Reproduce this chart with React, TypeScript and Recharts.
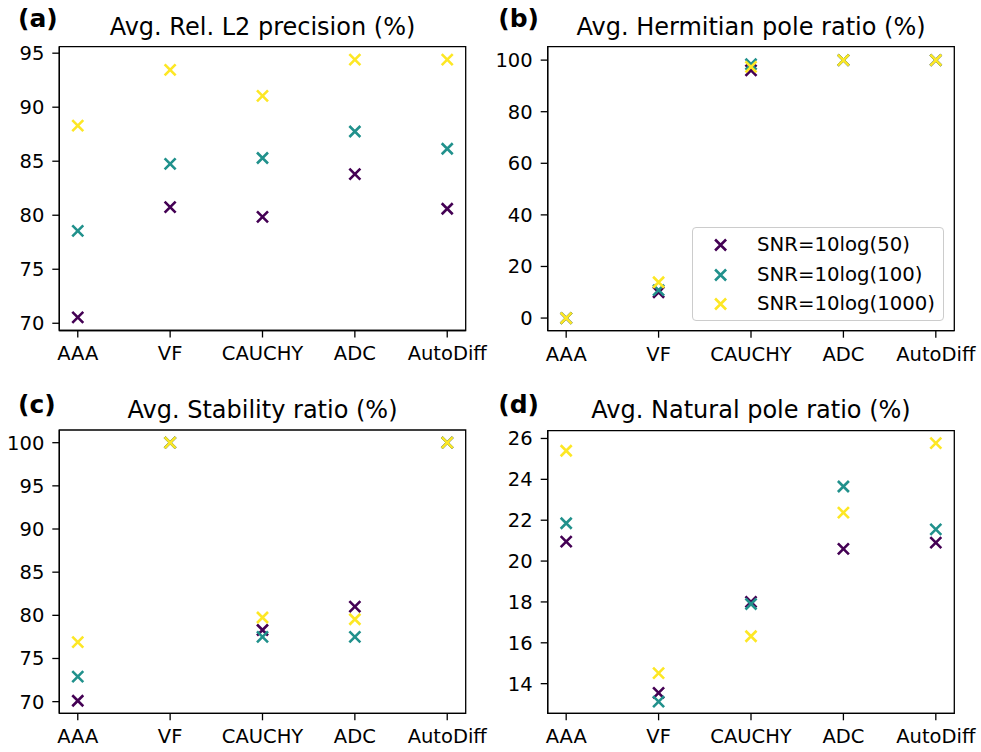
import React from 'react';
import { ScatterChart, Scatter, XAxis, YAxis, Legend, ReferenceArea } from 'recharts';

const categories = ['AAA', 'VF', 'CAUCHY', 'ADC', 'AutoDiff'];
const seriesNames = ['SNR=10log(50)', 'SNR=10log(100)', 'SNR=10log(1000)'];

const precision50 = [70.55, 80.75, 79.85, 83.8, 80.6];
const precision100 = [78.55, 84.75, 85.3, 87.75, 86.15];
const precision1000 = [88.3, 93.45, 91.05, 94.4, 94.4];

const hermitian50 = [0, 10, 96, 100, 100];
const hermitian100 = [0, 10.8, 98.4, 100, 100];
const hermitian1000 = [0, 13.9, 97.4, 100, 100];

const stability50 = [70.1, 100, 78.3, 81.0, 100];
const stability100 = [72.9, 100, 77.5, 77.5, 100];
const stability1000 = [76.9, 100, 79.75, 79.55, 100];

const natural50 = [20.95, 13.55, 18.0, 20.6, 20.9];
const natural100 = [21.85, 13.12, 17.9, 23.65, 21.55];
const natural1000 = [25.4, 14.52, 16.32, 22.37, 25.77];

const titles = [
  'Avg. Rel. L2 precision (%)',
  'Avg. Hermitian pole ratio (%)',
  'Avg. Stability ratio (%)',
  'Avg. Natural pole ratio (%)',
];
const panelLetters = ['(a)', '(b)', '(c)', '(d)'];

const ticksA = [70, 75, 80, 85, 90, 95];
const ticksB = [0, 20, 40, 60, 80, 100];
const ticksC = [70, 75, 80, 85, 90, 95, 100];
const ticksD = [14, 16, 18, 20, 22, 24, 26];

const COLORS = ['#440154', '#21918c', '#fde725'];
const FONT = "'DejaVu Sans', 'Liberation Sans', sans-serif";
const X_DOMAIN = [-0.2, 4.2];

const toPoints = (vals: number[]) => vals.map((v, i) => ({ x: i, y: v, cat: categories[i] }));

const panels = [
  {
    series: [precision50, precision100, precision1000],
    ticks: ticksA, domain: [69.33, 95.6],
    left: 0, top: 0, width: 490, height: 376,
    margin: { left: 9.3, right: 24.3, top: 46.7, bottom: 15.5 },
    title: titles[0], letter: panelLetters[0],
    titleX: 262.5, titleY: 35, letterX: 18, letterY: 26.5,
    legend: false,
  },
  {
    series: [hermitian50, hermitian100, hermitian1000],
    ticks: ticksB, domain: [-4.9, 105.2],
    left: 490, top: 0, width: 491, height: 376,
    margin: { left: 7.7, right: 26.7, top: 46.7, bottom: 15.3 },
    title: titles[1], letter: panelLetters[1],
    titleX: 751, titleY: 35, letterX: 498.3, letterY: 26.5,
    legend: true,
  },
  {
    series: [stability50, stability100, stability1000],
    ticks: ticksC, domain: [68.65, 101.47],
    left: 0, top: 376, width: 490, height: 376,
    margin: { left: 9.3, right: 24.3, top: 54, bottom: 8.7 },
    title: titles[2], letter: panelLetters[2],
    titleX: 262.5, titleY: 418.3, letterX: 18, letterY: 412.5,
    legend: false,
  },
  {
    series: [natural50, natural100, natural1000],
    ticks: ticksD, domain: [12.55, 26.38],
    left: 490, top: 376, width: 491, height: 376,
    margin: { left: 7.7, right: 26.7, top: 54.7, bottom: 8.7 },
    title: titles[3], letter: panelLetters[3],
    titleX: 751, titleY: 418, letterX: 498.3, letterY: 412.5,
    legend: false,
  },
];

const ARM = 5.5;
const XMarker = (props: any) => {
  const { cx, cy, fill } = props;
  if (cx == null || cy == null) return null;
  return (
    <path
      d={`M${cx - ARM},${cy - ARM}L${cx + ARM},${cy + ARM}M${cx - ARM},${cy + ARM}L${cx + ARM},${cy - ARM}`}
      stroke={fill}
      strokeWidth={2.6}
      fill="none"
    />
  );
};

const LegendBox = () => (
  <div
    style={{
      width: 252.6,
      height: 94.3,
      boxSizing: 'border-box',
      border: '1.3px solid #cccccc',
      borderRadius: 4,
      background: 'rgba(255,255,255,0.8)',
      position: 'relative',
      fontFamily: FONT,
      fontSize: 19.7,
    }}
  >
    {seriesNames.map((name, i) => (
      <div key={name} style={{ position: 'absolute', left: 0, top: 17.6 + i * 29.5 - 15, height: 30, width: '100%' }}>
        <svg width={40} height={30} style={{ position: 'absolute', left: 0, top: 0 }}>
          <XMarker cx={27.6} cy={15} fill={COLORS[i]} />
        </svg>
        <span style={{ position: 'absolute', left: 64.3, top: 15, transform: 'translateY(-50%)', whiteSpace: 'nowrap', lineHeight: '22px', color: '#000' }}>
          {name}
        </span>
      </div>
    ))}
  </div>
);

const axisStroke = { stroke: '#000', strokeWidth: 1.3 };
const tickStyle = { fill: '#000', fontSize: 19.5, fontFamily: FONT };

export default function App() {
  return (
    <div style={{ position: 'absolute', left: 0, top: 0, width: 981, height: 752, background: '#fff', overflow: 'hidden' }}>
      {panels.map((p, pi) => (
        <div key={pi} style={{ position: 'absolute', left: p.left, top: p.top, width: p.width, height: p.height }}>
          <ScatterChart width={p.width} height={p.height} margin={p.margin}>
            <XAxis
              xAxisId="main"
              dataKey="x"
              type="number"
              domain={X_DOMAIN}
              ticks={[0, 1, 2, 3, 4]}
              interval={0}
              allowDataOverflow
              tickFormatter={(v: number) => categories[v]}
              height={30}
              tickSize={7}
              tickMargin={9}
              tick={tickStyle}
              tickLine={axisStroke}
              axisLine={axisStroke}
            />
            <YAxis
              yAxisId="main"
              dataKey="y"
              type="number"
              domain={p.domain}
              ticks={p.ticks}
              interval={0}
              allowDataOverflow
              width={50}
              tickSize={7}
              tickMargin={8}
              tick={tickStyle}
              tickLine={axisStroke}
              axisLine={axisStroke}
            />
            <ReferenceArea
              xAxisId="main"
              yAxisId="main"
              x1={X_DOMAIN[0]}
              x2={X_DOMAIN[1]}
              y1={p.domain[0]}
              y2={p.domain[1]}
              fill="none"
              fillOpacity={0}
              stroke="#000"
              strokeWidth={1.3}
              ifOverflow="visible"
            />
            {p.series.map((vals, si) => (
              <Scatter
                key={si}
                name={seriesNames[si]}
                xAxisId="main"
                yAxisId="main"
                data={toPoints(vals)}
                fill={COLORS[si]}
                shape={XMarker}
                isAnimationActive={false}
              />
            ))}
            {p.legend && (
              <Legend
                layout="horizontal"
                verticalAlign="middle"
                align="center"
                wrapperStyle={{ left: 201.7, top: 226.7, width: 252.6, height: 94.3 }}
                content={() => <LegendBox />}
              />
            )}
          </ScatterChart>
        </div>
      ))}
      <svg width={981} height={752} style={{ position: 'absolute', left: 0, top: 0, pointerEvents: 'none' }}>
        {panels.map((p, pi) => (
          <g key={pi}>
            <text x={p.titleX} y={p.titleY} textAnchor="middle" fontFamily={FONT} fontSize={24} fill="#000">
              {p.title}
            </text>
            <text x={p.letterX} y={p.letterY} fontFamily={FONT} fontSize={25} fontWeight="bold" fill="#000">
              {p.letter}
            </text>
          </g>
        ))}
      </svg>
    </div>
  );
}
